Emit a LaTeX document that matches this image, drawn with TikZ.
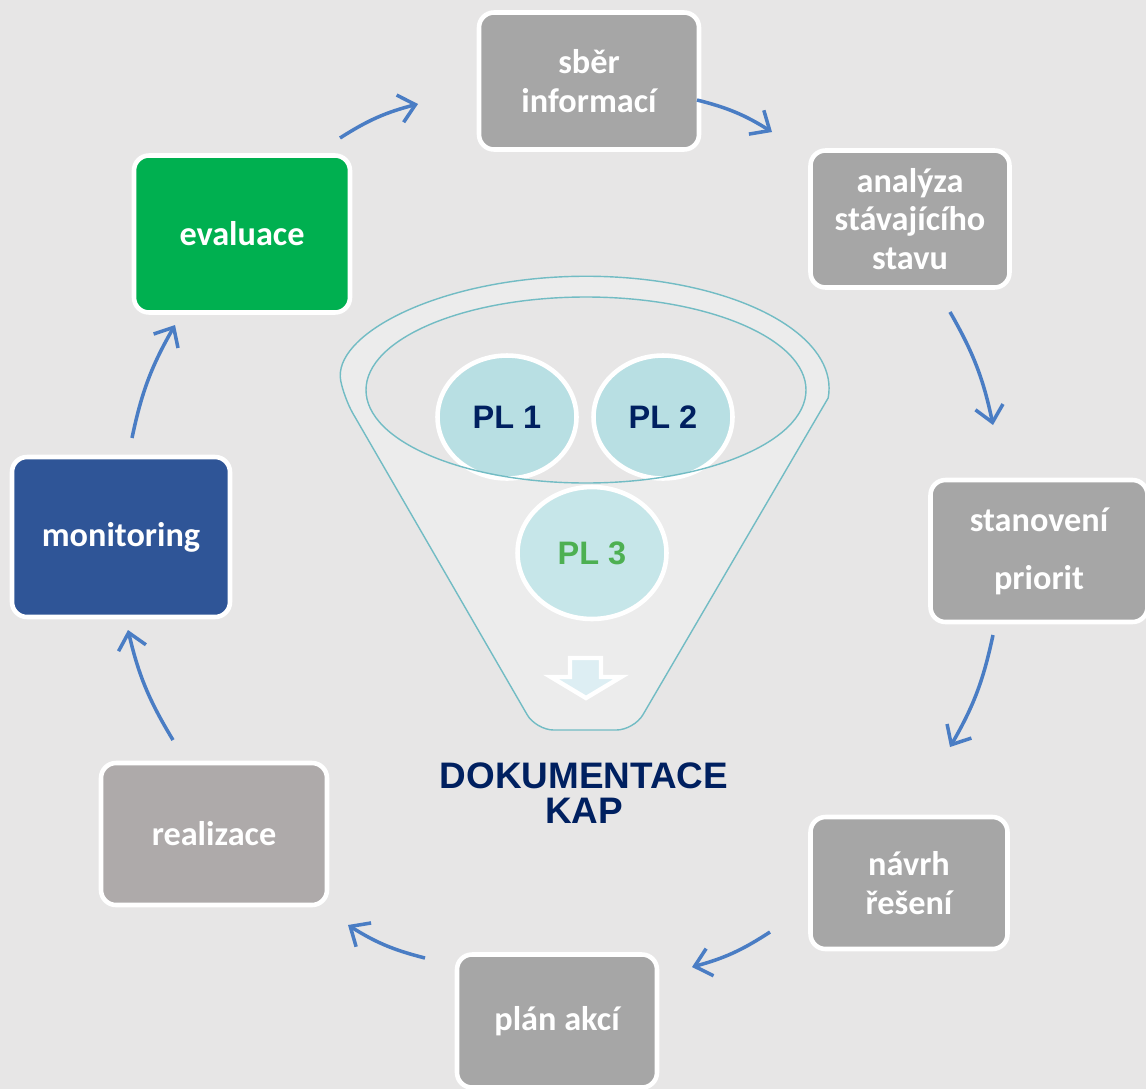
\documentclass[tikz,border=0pt]{standalone}
\usepackage{fontspec}
\setmainfont{Carlito}
\newfontfamily\arialfont{Liberation Sans}
\usetikzlibrary{arrows.meta,shapes.geometric}

\definecolor{bggrey}{HTML}{E7E6E6}
\definecolor{boxgrey}{HTML}{A6A6A6}
\definecolor{warmgrey}{HTML}{AEAAAA}
\definecolor{evalgreen}{HTML}{00B050}
\definecolor{monblue}{HTML}{2F5597}
\definecolor{flowblue}{HTML}{4A7DC4}
\definecolor{funnelline}{HTML}{72BCC4}
\definecolor{funnelfill}{HTML}{ECECEC}
\definecolor{plfill}{HTML}{B8DFE3}
\definecolor{plfilllight}{HTML}{C6E6E9}
\definecolor{navy}{HTML}{002060}
\definecolor{plgreen}{HTML}{4DB052}
\definecolor{dropfill}{HTML}{DDEEF3}

\begin{document}
\begin{tikzpicture}[x=0.02cm, y=0.02cm]
\tikzstyle{stage}=[rectangle, rounded corners=8.5pt, draw=white, line width=2.6pt, fill=boxgrey, text=white, font=\bfseries\fontsize{19.5}{22}\selectfont, align=center, inner sep=0pt]
\tikzstyle{pl}=[ellipse, draw=white, line width=2.6pt, fill=plfill, text=navy, font=\arialfont\bfseries\fontsize{18.5}{20}\selectfont, inner sep=0pt]
\tikzstyle{flow}=[-{Straight Barb[length=9pt, width=16pt]}, draw=flowblue, line width=2pt]

\useasboundingbox (0,0) rectangle (1146,-1089);
\fill [bggrey] (0,0) rectangle (1146,-1089);

% Funnel
\filldraw [fill=funnelfill, draw=funnelline, line width=0.8pt]
  (344,-398) arc [start angle=185, end angle=-5, x radius=243, y radius=112]
  [rounded corners=10pt] -- (634,-730) -- (536,-730) -- cycle;
\fill [bggrey] (586,-390) ellipse [x radius=220, y radius=93];

% Pillars
\node at (507,-417) [pl, minimum width=2.78cm, minimum height=2.46cm] (pl_1) {PL 1};
\node at (663,-417) [pl, minimum width=2.78cm, minimum height=2.46cm] (pl_2) {PL 2};
\node at (592,-553) [pl, fill=plfilllight, text=plgreen, minimum width=2.98cm, minimum height=2.64cm] (pl_3) {PL 3};
\draw [funnelline, line width=0.8pt] (586,-390) ellipse [x radius=220, y radius=93];

% Output
\filldraw [fill=dropfill, draw=white, line width=2.5pt] (570,-658) -- (601,-658) -- (601,-677) -- (621,-677) -- (586,-698) -- (551,-677) -- (570,-677) -- cycle;
\node at (584,-793) [text=navy, font=\arialfont\bfseries\fontsize{21}{20}\selectfont, align=center] (dokumentace) {DOKUMENTACE\\KAP};

% Cycle
\node at (589,-81) [stage, minimum width=4.40cm, minimum height=2.74cm] (sber) {sběr\\informací};
\node at (910,-219) [stage, minimum width=3.98cm, minimum height=2.74cm] (analyza) {analýza\\stávajícího\\stavu};
\node at (1039,-551) [stage, minimum width=4.34cm, minimum height=2.84cm] (stanoveni) {stanovení\\[11pt]priorit};
\node at (909,-883) [stage, minimum width=3.94cm, minimum height=2.64cm] (navrh) {návrh\\řešení};
\node at (557,-1021) [stage, minimum width=4.00cm, minimum height=2.66cm] (plan) {plán akcí};
\node at (214,-834) [stage, fill=warmgrey, minimum width=4.52cm, minimum height=2.84cm] (realizace) {realizace};
\node at (121,-537) [stage, fill=monblue, minimum width=4.36cm, minimum height=3.20cm] (monitoring) {monitoring};
\node at (242,-234) [stage, fill=evalgreen, minimum width=4.32cm, minimum height=3.14cm] (evaluace) {evaluace};

% Arrows
\foreach \i/\a/\b/\c/\d in {1/340/138/418/104, 2/697/100/772/132, 3/950/312/993/425, 4/993/635/950/747,
                            5/770/932/692/967, 6/425/958/348/925, 7/173/740/128/630, 8/132/438/175/325}
{
\coordinate (tail_\i) at (\a,-\b);
\coordinate (head_\i) at (\c,-\d);
}
\foreach \i in {1,...,8}
\draw [flow] (tail_\i) to [bend left=9] (head_\i);
\end{tikzpicture}
\end{document}
